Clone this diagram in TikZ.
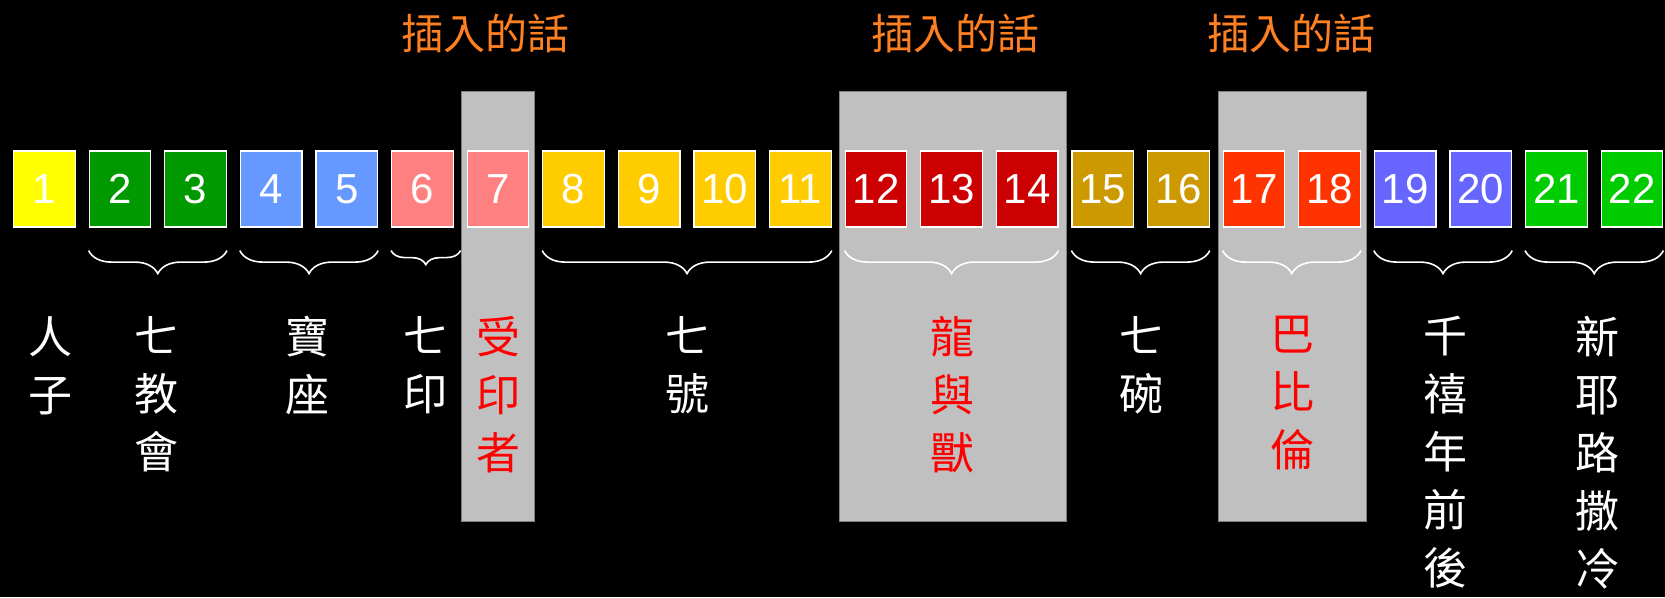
\documentclass[tikz,border=0pt]{standalone}
\usepackage{fontspec}
\setmainfont{Liberation Sans}
\newfontfamily\cjk{Noto Sans CJK TC}
\usetikzlibrary{decorations.pathreplacing,fit}

\definecolor{cYel}{HTML}{FFFF00}
\definecolor{cGrn}{HTML}{009900}
\definecolor{cBlu}{HTML}{6699FF}
\definecolor{cPnk}{HTML}{FF8080}
\definecolor{cGld}{HTML}{FFCC00}
\definecolor{cRed}{HTML}{CC0000}
\definecolor{cOch}{HTML}{CC9900}
\definecolor{cOrg}{HTML}{FF3300}
\definecolor{cVio}{HTML}{6666FF}
\definecolor{cLim}{HTML}{00CC00}
\definecolor{cIns}{HTML}{FF8020}
\definecolor{cGry}{HTML}{C0C0C0}

\tikzset{
  numbox/.style={draw=white, line width=1.2pt, minimum width=61.6pt, minimum height=76pt,
    inner sep=0pt, text=white, font=\fontsize{42}{48}\selectfont},
  grybox/.style={draw=gray, fill=cGry, line width=0.8pt, inner sep=0pt},
  brc/.style={draw=white, line width=1.6pt, decorate, decoration={brace, mirror, amplitude=#1}},
  brc/.default=23pt,
  lbl/.style={text=white, align=center, inner sep=0pt, anchor=north,
    font=\cjk\fontsize{44}{58}\selectfont},
  ins/.style={text=cIns, inner sep=0pt, font=\cjk\fontsize{42}{48}\selectfont}
}

\begin{document}
\begin{tikzpicture}[x=1pt, y=-1pt]
\useasboundingbox (0, 0) rectangle (1665, 597);
\fill[black] (0, 0) rectangle (1665, 597);

% inserted passages
\node[grybox, fit={(461, 91) (534, 521)}] (g1) {};
\node[grybox, fit={(839, 91) (1066, 521)}] (g2) {};
\node[grybox, fit={(1218, 91) (1366, 521)}] (g3) {};
\node[ins] (i1) at (485, 33) {插入的話};
\node[ins] (i2) at (955, 33) {插入的話};
\node[ins] (i3) at (1291, 33) {插入的話};

% chapters
\foreach \n/\c in {1/cYel, 2/cGrn, 3/cGrn, 4/cBlu, 5/cBlu, 6/cPnk, 7/cPnk, 8/cGld, 9/cGld, 10/cGld, 11/cGld,
    12/cRed, 13/cRed, 14/cRed, 15/cOch, 16/cOch, 17/cOrg, 18/cOrg, 19/cVio, 20/cVio, 21/cLim, 22/cLim}
  \node[numbox, fill=\c] (b\n) at ({44.4+(\n-1)*75.6}, 189) {\n};

% braces
\draw[brc] ([yshift=-23pt]b2.south west) -- ([yshift=-23pt]b3.south east);
\draw[brc] ([yshift=-23pt]b4.south west) -- ([yshift=-23pt]b5.south east);
\draw[brc=14pt] ([yshift=-23pt]b6.south west) -- ([yshift=-23pt]b6.south west -| g1.west);
\draw[brc] ([yshift=-23pt]b8.south west) -- ([yshift=-23pt]b11.south east);
\draw[brc] ([yshift=-23pt]b12.south west) -- ([yshift=-23pt]b14.south east);
\draw[brc] ([yshift=-23pt]b15.south west) -- ([yshift=-23pt]b16.south east);
\draw[brc] ([yshift=-23pt]b17.south west) -- ([yshift=-23pt]b18.south east);
\draw[brc] ([yshift=-23pt]b19.south west) -- ([yshift=-23pt]b20.south east);
\draw[brc] ([yshift=-23pt]b21.south west) -- ([yshift=-23pt]b22.south east);

% labels
\node[lbl] (l1) at (50, 316) {人\\子};
\node[lbl] (l2) at (156, 316) {七\\教\\會};
\node[lbl] (l3) at (307, 316) {寶\\座};
\node[lbl] (l4) at (425, 316) {七\\印};
\node[lbl, text=red] (l5) at (498, 316) {受\\印\\者};
\node[lbl] (l6) at (687, 316) {七\\號};
\node[lbl, text=red] (l7) at (952, 316) {龍\\與\\獸};
\node[lbl] (l8) at (1141, 316) {七\\碗};
\node[lbl, text=red] (l9) at (1292, 316) {巴\\比\\倫};
\node[lbl] (l10) at (1445, 316) {千\\禧\\年\\前\\後};
\node[lbl] (l11) at (1597, 316) {新\\耶\\路\\撒\\冷};
\end{tikzpicture}
\end{document}
